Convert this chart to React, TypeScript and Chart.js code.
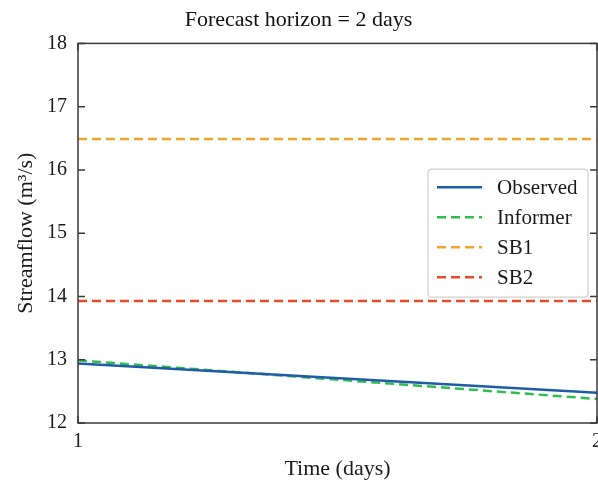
import React, { useEffect, useRef } from "react";
import { Chart, registerables } from "chart.js";

Chart.register(...registerables);

const chartTitle = "Forecast horizon = 2 days";
const xTitle = "Time (days)";
const yTitle = "Streamflow (m³/s)";
const days = [1, 2];
const observed = [12.94, 12.48];
const informer = [12.99, 12.38];
const sb1 = [16.49, 16.49];
const sb2 = [13.93, 13.93];
const yTicks = [12, 13, 14, 15, 16, 17, 18];
const xTicks = [1, 2];
const seriesNames = ["Observed", "Informer", "SB1", "SB2"];
const seriesColors = ["#1f5ca8", "#2cbf4c", "#f3a52a", "#ea4a28"];
const seriesDash: number[][] = [[], [9, 5], [9, 5], [9, 5]];

const FONT = "'Liberation Serif', 'Times New Roman', serif";

const framePlugin = {
  id: "frameTicksLegend",
  afterDatasetsDraw(chart: any) {
    const { ctx, chartArea: a, scales } = chart;
    ctx.save();
    ctx.strokeStyle = "#3a3a3a";
    ctx.lineWidth = 1.5;
    ctx.strokeRect(a.left, a.top, a.right - a.left, a.bottom - a.top);
    const L = 7;
    ctx.beginPath();
    yTicks.forEach((v) => {
      const y = scales.y.getPixelForValue(v);
      ctx.moveTo(a.left, y);
      ctx.lineTo(a.left + L, y);
      ctx.moveTo(a.right, y);
      ctx.lineTo(a.right - L, y);
    });
    xTicks.forEach((v) => {
      const x = scales.x.getPixelForValue(v);
      ctx.moveTo(x, a.bottom);
      ctx.lineTo(x, a.bottom - L);
      ctx.moveTo(x, a.top);
      ctx.lineTo(x, a.top + L);
    });
    ctx.stroke();

    // legend (center right)
    const bw = 160;
    const bh = 128;
    const bx = a.right - 9 - bw;
    const by = (a.top + a.bottom) / 2 - bh / 2;
    const r = 4;
    ctx.beginPath();
    ctx.moveTo(bx + r, by);
    ctx.lineTo(bx + bw - r, by);
    ctx.quadraticCurveTo(bx + bw, by, bx + bw, by + r);
    ctx.lineTo(bx + bw, by + bh - r);
    ctx.quadraticCurveTo(bx + bw, by + bh, bx + bw - r, by + bh);
    ctx.lineTo(bx + r, by + bh);
    ctx.quadraticCurveTo(bx, by + bh, bx, by + bh - r);
    ctx.lineTo(bx, by + r);
    ctx.quadraticCurveTo(bx, by, bx + r, by);
    ctx.closePath();
    ctx.fillStyle = "rgba(255,255,255,0.85)";
    ctx.fill();
    ctx.strokeStyle = "#cfcfcf";
    ctx.lineWidth = 1.2;
    ctx.stroke();

    ctx.font = `21px ${FONT}`;
    ctx.textBaseline = "middle";
    ctx.textAlign = "left";
    chart.data.datasets.forEach((ds: any, i: number) => {
      const y = by + 18 + i * 30;
      ctx.beginPath();
      ctx.strokeStyle = ds.borderColor;
      ctx.lineWidth = 2.5;
      ctx.setLineDash(ds.borderDash || []);
      ctx.moveTo(bx + 9, y);
      ctx.lineTo(bx + 54, y);
      ctx.stroke();
      ctx.setLineDash([]);
      ctx.fillStyle = "#1a1a1a";
      ctx.fillText(ds.label, bx + 69, y + 1);
    });
    ctx.restore();
  },
};

export default function App() {
  const ref = useRef<HTMLCanvasElement | null>(null);
  useEffect(() => {
    document.body.style.margin = "0";
    document.body.style.overflow = "hidden";
    if (!ref.current) return;
    const seriesValues = [observed, informer, sb1, sb2];
    const chart = new Chart(ref.current, {
      type: "line",
      data: {
        datasets: seriesNames.map((name, i) => ({
          label: name,
          data: days.map((d, j) => ({ x: d, y: seriesValues[i][j] })),
          borderColor: seriesColors[i],
          backgroundColor: seriesColors[i],
          borderDash: seriesDash[i],
          borderWidth: 2.5,
          pointRadius: 0,
          fill: false,
          tension: 0,
        })),
      },
      options: {
        animation: false,
        responsive: false,
        maintainAspectRatio: false,
        layout: { padding: { left: 0, right: 23, top: 0, bottom: 0 } },
        plugins: {
          legend: { display: false },
          tooltip: { enabled: false },
          title: {
            display: true,
            text: chartTitle,
            color: "#111",
            font: { family: FONT, size: 22, weight: "normal" },
            padding: { top: 7, bottom: 10 },
          },
        },
        scales: {
          x: {
            type: "linear",
            min: 1,
            max: 2,
            ticks: {
              stepSize: 1,
              color: "#1a1a1a",
              font: { family: FONT, size: 20 },
              padding: 7,
              maxRotation: 0,
            },
            grid: { drawOnChartArea: false, drawTicks: false },
            border: { display: false },
            title: {
              display: true,
              text: xTitle,
              color: "#1a1a1a",
              font: { family: FONT, size: 22 },
              padding: { top: 4, bottom: 3 },
            },
            afterFit: (s: any) => {
              s.height = 62;
            },
          },
          y: {
            type: "linear",
            min: 12,
            max: 18,
            ticks: {
              stepSize: 1,
              color: "#1a1a1a",
              font: { family: FONT, size: 20 },
              padding: 11,
            },
            grid: { drawOnChartArea: false, drawTicks: false },
            border: { display: false },
            title: {
              display: true,
              text: yTitle,
              color: "#1a1a1a",
              font: { family: FONT, size: 22 },
              padding: { top: 13, bottom: 4 },
            },
            afterFit: (s: any) => {
              s.width = 78;
            },
          },
        },
      },
      plugins: [framePlugin],
    });
    return () => chart.destroy();
  }, []);
  return (
    <div style={{ position: "fixed", left: 0, top: 0, width: 598, height: 485, overflow: "hidden", background: "#fff" }}>
      <canvas ref={ref} width={620} height={485} style={{ display: "block", width: 620, height: 485 }} />
    </div>
  );
}
